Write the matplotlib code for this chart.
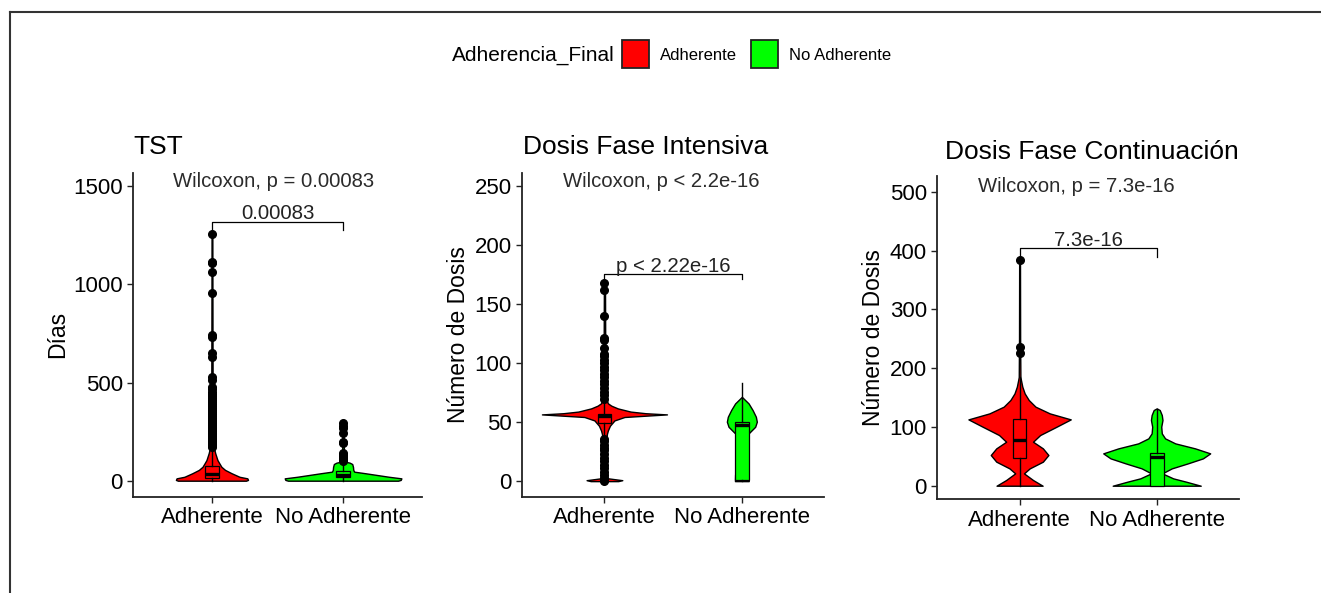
import numpy as np
import matplotlib
matplotlib.use('Agg')
import matplotlib.pyplot as plt
from matplotlib.patches import Rectangle
from matplotlib.lines import Line2D

plt.rcParams['font.family'] = ['Liberation Sans', 'DejaVu Sans']

groups = ['Adherente', 'No Adherente']
colors = ['#FF0000', '#00FF00']
legend_title = 'Adherencia_Final'

titles = ['TST', 'Dosis Fase Intensiva', 'Dosis Fase Continuación']
ylabels = ['Días', 'Número de Dosis', 'Número de Dosis']
wilcox_labels = ['Wilcoxon, p = 0.00083', 'Wilcoxon, p < 2.2e-16', 'Wilcoxon, p = 7.3e-16']
wilcox_y = [1498, 249.7, 500]
sig_labels = ['0.00083', 'p < 2.22e-16', '7.3e-16']
sig_top = [1319, 175.6, 403.7]
sig_tip = [1277, 171.1, 389.5]

# violin outlines: value -> half width (x units)
tst_adh_y = [0, 4, 12, 20, 38, 55, 71, 90, 105, 140, 165, 180, 250, 500, 800, 1255]
tst_adh_w = [0.26, 0.275, 0.27, 0.21, 0.15, 0.10, 0.072, 0.055, 0.042, 0.025, 0.016, 0.011, 0.007, 0.005, 0.004, 0.003]
tst_noadh_y = [0, 4, 12, 20, 30, 38, 46, 55, 70, 85, 92, 97, 120, 200, 292]
tst_noadh_w = [0.42, 0.44, 0.445, 0.35, 0.25, 0.17, 0.085, 0.078, 0.076, 0.07, 0.05, 0.015, 0.008, 0.005, 0.004]

int_adh_y = [0, 0.8, 2.5, 5, 15, 30, 40, 43, 47, 51.5, 54.4, 55.5, 56.6, 57.6, 59, 61.7, 64, 66, 70, 100, 168]
int_adh_w = [0.10, 0.13, 0.02, 0.006, 0.006, 0.01, 0.018, 0.025, 0.04, 0.073, 0.146, 0.3, 0.455, 0.3, 0.19, 0.097, 0.05, 0.025, 0.012, 0.006, 0.004]
int_noadh_y = [0, 1.3, 5.5, 9.8, 15.4, 18, 24, 29, 36.3, 40.5, 46.1, 50.4, 54.6, 60.3, 65.9, 71.5]
int_noadh_w = [0.05, 0.05, 0.049, 0.041, 0.025, 0.02, 0.02, 0.02, 0.029, 0.049, 0.097, 0.109, 0.102, 0.078, 0.049, 0.0]

cont_adh_y = [0, 9.7, 21, 29.5, 40.9, 52.2, 63.5, 74.8, 86.2, 100.4, 112.8, 123, 134.4, 145.7, 157, 168.4, 179.8, 185, 250, 384]
cont_adh_w = [0.168, 0.098, 0.032, 0.074, 0.17, 0.21, 0.17, 0.098, 0.15, 0.27, 0.373, 0.22, 0.116, 0.067, 0.037, 0.02, 0.01, 0.006, 0.004, 0.003]
cont_noadh_y = [0, 6.8, 12.5, 21, 29.5, 38, 46.5, 55, 63.5, 72, 80.5, 89, 100.4, 111.7, 120.2, 128.7, 131.5]
cont_noadh_w = [0.321, 0.215, 0.12, 0.04, 0.11, 0.227, 0.337, 0.39, 0.28, 0.135, 0.061, 0.037, 0.033, 0.042, 0.037, 0.022, 0.0]

# box stats: whislo, q1, med, q3, whishi
tst_adh_box = [0, 12, 33, 74, 165]
tst_noadh_box = [0, 18, 30, 47, 92]
int_adh_box = [37, 49, 55, 57, 69]
int_noadh_box = [0, 1, 47.5, 50.3, 83]
cont_adh_box = [0, 46.5, 77.7, 112.8, 185]
cont_noadh_box = [0, 0, 48.3, 56.2, 131]

# outliers
tst_adh_out = [172, 180, 188, 196, 204, 212, 220, 228, 236, 244, 252, 260, 268, 276, 284, 292, 300,
               310, 320, 330, 340, 350, 360, 370, 380, 390, 400, 410, 420, 430, 440, 453, 466, 479,
               513, 530, 628, 649, 730, 742, 955, 1065, 1107, 1116, 1255]
tst_noadh_out = [98, 105, 112, 118, 125, 132, 140, 190, 199, 241, 267, 280, 292]
int_adh_out = [0, 1, 3, 5, 8, 11, 14, 17, 20, 23, 26, 28, 31, 34, 36,
               70, 73, 76, 79, 82, 85, 88, 91, 94, 97, 100, 103, 106, 108, 113, 120, 121, 140, 162, 168]
int_noadh_out = []
cont_adh_out = [225, 236, 384]
cont_noadh_out = []

panels = [
    dict(viol=[(tst_adh_y, tst_adh_w), (tst_noadh_y, tst_noadh_w)],
         box=[tst_adh_box, tst_noadh_box], out=[tst_adh_out, tst_noadh_out],
         ylim=(-81.5, 1569.3), yticks=[0, 500, 1000, 1500],
         rect=(133.3, 172.7, 421.7, 496.7), title_px=(133, 154.3)),
    dict(viol=[(int_adh_y, int_adh_w), (int_noadh_y, int_noadh_w)],
         box=[int_adh_box, int_noadh_box], out=[int_adh_out, int_noadh_out],
         ylim=(-13.2, 261.6), yticks=[0, 50, 100, 150, 200, 250],
         rect=(522, 172.7, 824.3, 496.7), title_px=(522.7, 154.3)),
    dict(viol=[(cont_adh_y, cont_adh_w), (cont_noadh_y, cont_noadh_w)],
         box=[cont_adh_box, cont_noadh_box], out=[cont_adh_out, cont_noadh_out],
         ylim=(-23.1, 526.7), yticks=[0, 100, 200, 300, 400, 500],
         rect=(937.3, 176, 1239, 499.3), title_px=(945, 159.3)),
]

W, H = 1321, 593


def fx(px):
    return px / W


def fy(py):
    return 1 - py / H


fig = plt.figure(figsize=(W / 100, H / 100), dpi=100)

for k, p in enumerate(panels):
    l, t, r, b = p['rect']
    ax = fig.add_axes([fx(l), fy(b), (r - l) / W, (b - t) / H])
    for i, (ys, ws) in enumerate(p['viol']):
        pos = i + 1
        ys = np.array(ys)
        ws = np.array(ws)
        ax.fill_betweenx(ys, pos - ws, pos + ws, facecolor=colors[i], edgecolor='black',
                         linewidth=1.0, zorder=1)
        lo, q1, med, q3, hi = p['box'][i]
        stats = [dict(whislo=lo, q1=q1, med=med, q3=q3, whishi=hi,
                      fliers=np.array(p['out'][i], dtype=float))]
        ax.bxp(stats, positions=[pos], widths=0.1, patch_artist=True, showcaps=False,
               manage_ticks=False,
               boxprops=dict(facecolor=colors[i], edgecolor='black', linewidth=0.9),
               medianprops=dict(color='black', linewidth=2.4),
               whiskerprops=dict(color='black', linewidth=1.0),
               flierprops=dict(marker='o', markerfacecolor='black', markeredgecolor='black',
                               markersize=5.5),
               zorder=2)

    # significance bracket
    ax.plot([1, 1, 2, 2], [sig_tip[k], sig_top[k], sig_top[k], sig_tip[k]],
            color='black', linewidth=0.9, zorder=3)
    ax.annotate(sig_labels[k], xy=(1.5, sig_top[k]), xytext=(0, 1.8), textcoords='offset points',
                ha='center', va='baseline', fontsize=14.7, color='#222222')
    ax.text(0.70, wilcox_y[k], wilcox_labels[k], ha='left', va='baseline',
            fontsize=14.6, color='#2b2b2b')

    ax.set_xlim(0.4, 2.6)
    ax.set_ylim(*p['ylim'])
    ax.set_xticks([1, 2])
    ax.set_xticklabels(groups)
    ax.set_yticks(p['yticks'])
    for s in ['top', 'right']:
        ax.spines[s].set_visible(False)
    for s in ['left', 'bottom']:
        ax.spines[s].set_linewidth(1.3)
        ax.spines[s].set_color('#222222')
    ax.tick_params(axis='both', length=4.5, width=1, color='#222222', labelsize=16,
                   labelcolor='black', pad=3)
    ax.set_ylabel(ylabels[k], fontsize=16.5, labelpad=3)

    tx, ty = p['title_px']
    fig.text(fx(tx), fy(ty), titles[k], fontsize=19, ha='left', va='baseline')

# legend drawn by hand (title on the left, like ggplot)
fig.text(fx(452), fy(55), legend_title, fontsize=15, ha='left', va='center')
key_x = [622, 751]
lab_x = [660, 789]
for i, g in enumerate(groups):
    fig.add_artist(Rectangle((fx(key_x[i]), fy(68)), 27 / W, 28 / H, facecolor=colors[i],
                             edgecolor='#222222', linewidth=1.3, transform=fig.transFigure))
    fig.text(fx(lab_x[i]), fy(55), g, fontsize=12, ha='left', va='center')

# screenshot frame
fig.add_artist(Line2D([fx(10), 1], [fy(12), fy(12)], color='#333333', linewidth=1.5,
                      transform=fig.transFigure))
fig.add_artist(Line2D([fx(10), fx(10)], [fy(12), 0], color='#333333', linewidth=1.5,
                      transform=fig.transFigure))

fig.savefig('out.png', dpi=100)
